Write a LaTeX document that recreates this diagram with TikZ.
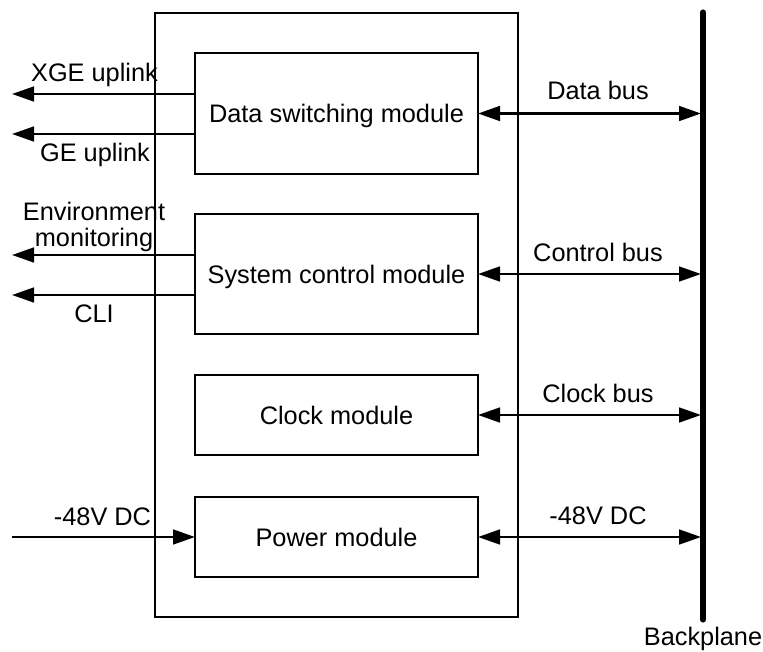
\documentclass[tikz,border=0pt]{standalone}
\usepackage{fontspec}
\setmainfont{Liberation Sans}
\usetikzlibrary{arrows.meta}
\begin{document}
\begin{tikzpicture}[x=0.75pt,y=-0.75pt,
  every node/.style={font=\fontsize{19}{22}\selectfont},
  module/.style={draw,line width=1.6pt,inner sep=0pt,outer sep=0pt,minimum width=283*0.75pt,text height=13.9pt,text depth=0pt},
  frame/.style={draw,line width=1.6pt,inner sep=0pt,outer sep=0pt},
  arr/.style={line width=2pt,-{Triangle[length=16.5pt,width=11pt]}},
  biarr/.style={line width=2pt,{Triangle[length=16.5pt,width=11pt]}-{Triangle[length=16.5pt,width=11pt]}},
  lbl/.style={anchor=base,inner sep=0pt}]
\useasboundingbox (0,0) rectangle (763,652);
% outer board
\node[frame,minimum width=363*0.75pt,minimum height=604*0.75pt] (board) at (336.5,315) {};
% modules
\node[module,minimum height=121*0.75pt] (ds) at (336.5,113.5) {Data switching module};
\node[module,minimum height=120*0.75pt] (sc) at (336.5,274) {System control module};
\node[module,minimum height=80*0.75pt] (ck) at (336.5,415) {Clock module};
\node[module,minimum height=80*0.75pt] (pw) at (336.5,537) {Power module};
% backplane
\coordinate (bpT) at (703,12);
\coordinate (bpB) at (703,620);
\draw[line width=3.8pt,line cap=round] (bpT) -- (bpB);
\node[lbl] (bpl) at (703,645) {Backplane};
% left free ends
\coordinate (xge) at (12,94);
\coordinate (ge) at (12,134);
\coordinate (env) at (12,255);
\coordinate (cli) at (12,295);
\coordinate (pin) at (12,537);
\draw[arr] (ds.west |- xge) -- (xge);
\draw[arr] (ds.west |- ge) -- (ge);
\draw[arr] (sc.west |- env) -- (env);
\draw[arr] (sc.west |- cli) -- (cli);
\draw[arr] (pin) -- (pw.west);
\node[lbl] (lxge) at (94.5,82) {XGE uplink};
\node[lbl] (lge) at (95,162) {GE uplink};
\node[lbl] (lenv1) at (94,220) {Environment};
\node[lbl] (lenv2) at (94,247) {monitoring};
\node[lbl] (lcli) at (94,322) {CLI};
\node[lbl] (lpin) at (102.5,525) {-48V DC};
% buses
\draw[biarr,shorten >=1.5pt] (ds.east) -- (ds.east -| bpT);
\draw[biarr,shorten >=1.5pt] (sc.east) -- (sc.east -| bpT);
\draw[biarr,shorten >=1.5pt] (ck.east) -- (ck.east -| bpT);
\draw[biarr,shorten >=1.5pt] (pw.east) -- (pw.east -| bpT);
\node[lbl] (ldb) at (598,100) {Data bus};
\node[lbl] (lcb) at (598,261) {Control bus};
\node[lbl] (lkb) at (598,402) {Clock bus};
\node[lbl] (lpb) at (598,524) {-48V DC};
\end{tikzpicture}
\end{document}
